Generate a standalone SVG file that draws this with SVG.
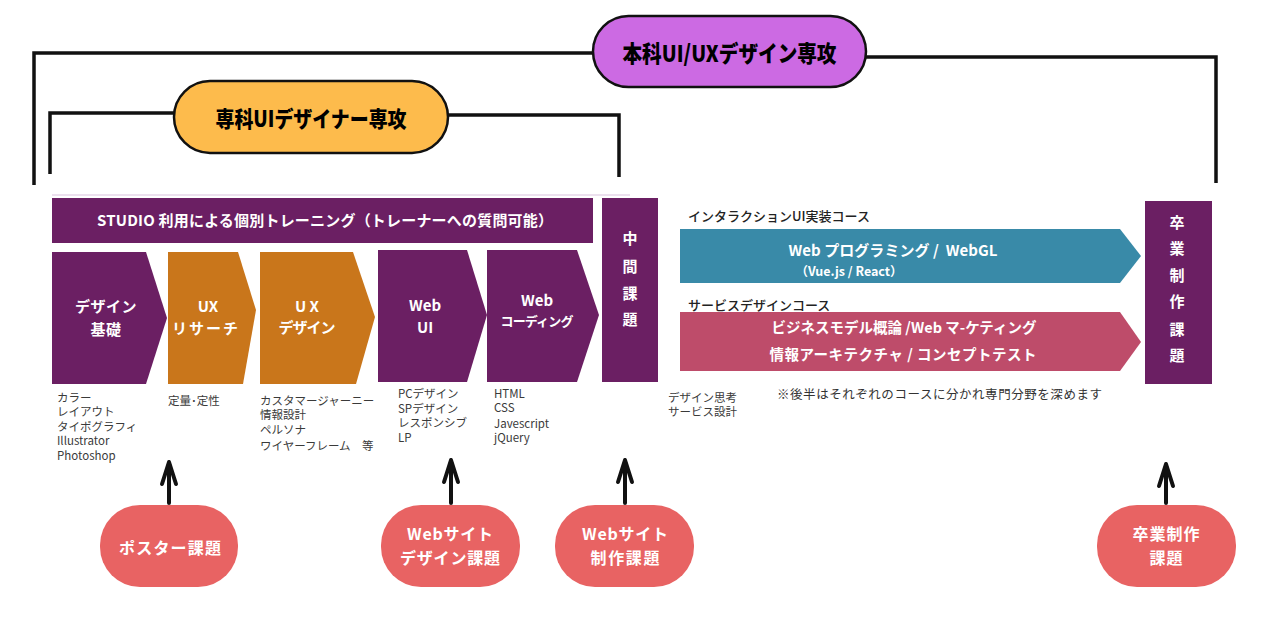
<svg xmlns="http://www.w3.org/2000/svg" width="1267" height="619" viewBox="0 0 1267 619">
<style>
text{font-family:"Noto Sans CJK JP","Noto Sans",sans-serif;dominant-baseline:central}
.w{fill:#ffffff;font-weight:700}
.lbl{fill:#000;font-weight:900}
.lst{fill:#3a3a3a;font-size:11.5px}
.hd{fill:#222;font-size:13px;font-weight:500}
.c{text-anchor:middle}
.pur{fill:#6b1f63}
.org{fill:#c9761b}
.coral{fill:#e86363}
.br{fill:none;stroke:#111;stroke-width:3.5;stroke-linejoin:miter}
.ar{fill:none;stroke:#111;stroke-width:4;stroke-linecap:round;stroke-linejoin:round}
</style>
<rect width="1267" height="619" fill="#ffffff"/>
<g id="connectors">
<polyline class="br" points="34,185 34,53 594,53"/>
<polyline class="br" points="866,57 1216,57 1216,183"/>
<polyline class="br" points="50,174 50,113 175,113"/>
<polyline class="br" points="448,115 619,115 619,177"/>
<line x1="52" y1="195" x2="630" y2="195" stroke="#e6d6e8" stroke-width="1.5"/>
<path class="ar" d="M169,503 L169,464 M162,484 L169,462 L176,484"/>
<path class="ar" d="M451,503 L451,462 M444,482 L451,460 L458,482"/>
<path class="ar" d="M625,503 L625,462 M618,482 L625,460 L632,482"/>
<path class="ar" d="M1166,503 L1166,466 M1159,486 L1166,464 L1173,486"/>
</g>
<g id="honka">
<rect x="593" y="16" width="273" height="71" rx="35.5" fill="#cc6ae3" stroke="#111" stroke-width="2.5"/>
<text class="lbl c" x="729.5" y="52" font-size="23" textLength="214" lengthAdjust="spacingAndGlyphs">本科UI/UXデザイン専攻</text>
</g>
<g id="senka">
<rect x="174" y="81" width="274" height="72" rx="36" fill="#fdbb4c" stroke="#111" stroke-width="2.5"/>
<text class="lbl c" x="311" y="117" font-size="22" textLength="191" lengthAdjust="spacingAndGlyphs">専科UIデザイナー専攻</text>
</g>
<g id="studio">
<rect class="pur" x="52" y="198" width="541" height="45"/>
<text class="w c" x="325" y="219" font-size="15" textLength="456" lengthAdjust="spacing">STUDIO 利用による個別トレーニング（トレーナーへの質問可能）</text>
</g>
<g id="design-kiso">
<polygon class="pur" points="52,252 146,252 167,318 146,384 52,384"/>
<text class="w c" x="106" y="305" font-size="15" letter-spacing="0.5">デザイン</text>
<text class="w c" x="106" y="328" font-size="15" letter-spacing="0.5">基礎</text>
<g class="lst">
<text x="57" y="397">カラー</text>
<text x="57" y="411">レイアウト</text>
<text x="57" y="426">タイポグラフィ</text>
<text x="57" y="440">Illustrator</text>
<text x="57" y="455">Photoshop</text>
</g>
</g>
<g id="ux-research">
<polygon class="org" points="168,252 238,252 256,310 243,384 168,384"/>
<text class="w c" x="208" y="305" font-size="15">UX</text>
<text class="w c" x="205" y="327" font-size="15" textLength="66" lengthAdjust="spacing">リサーチ</text>
<text class="lst" x="168" y="400">定量･定性</text>
</g>
<g id="ux-design">
<polygon class="org" points="260,252 353,252 375,317 356,384 260,384"/>
<text class="w c" x="307" y="305" font-size="15">U X</text>
<text class="w c" x="307" y="326" font-size="15" textLength="57" lengthAdjust="spacing">デザイン</text>
<g class="lst">
<text x="260" y="400">カスタマージャーニー</text>
<text x="260" y="414">情報設計</text>
<text x="260" y="429">ペルソナ</text>
<text x="260" y="445">ワイヤーフレーム　等</text>
</g>
</g>
<g id="web-ui">
<polygon class="pur" points="378,250 467,250 487,315 467,382 378,382"/>
<text class="w c" x="425" y="304" font-size="15">Web</text>
<text class="w c" x="425" y="326" font-size="15">UI</text>
<g class="lst">
<text x="398" y="393">PCデザイン</text>
<text x="398" y="408">SPデザイン</text>
<text x="398" y="422">レスポンシブ</text>
<text x="398" y="437">LP</text>
</g>
</g>
<g id="web-coding">
<polygon class="pur" points="487,250 577,250 599,315 577,382 487,382"/>
<text class="w c" x="537" y="299" font-size="15">Web</text>
<text class="w c" x="537" y="320" font-size="13" textLength="73" lengthAdjust="spacing">コーディング</text>
<g class="lst">
<text x="494" y="393">HTML</text>
<text x="494" y="407">CSS</text>
<text x="494" y="423">Javescript</text>
<text x="494" y="437">jQuery</text>
</g>
</g>
<g id="chukan">
<rect class="pur" x="602" y="198" width="56" height="184"/>
<text class="w c" x="630" y="237" font-size="15">中</text>
<text class="w c" x="630" y="265" font-size="15">間</text>
<text class="w c" x="630" y="292" font-size="15">課</text>
<text class="w c" x="630" y="318" font-size="15">題</text>
<g class="lst">
<text x="668" y="397">デザイン思考</text>
<text x="668" y="411">サービス設計</text>
</g>
</g>
<g id="interaction-course">
<text class="hd" x="688" y="215">インタラクションUI実装コース</text>
<polygon fill="#398aa8" points="680,229 1120,229 1141,256 1120,283 680,283"/>
<text class="w c" x="893" y="249" font-size="15" textLength="209" lengthAdjust="spacing">Web プログラミング /&#160; WebGL</text>
<text class="w c" x="849" y="270" font-size="12.5">（Vue.js / React）</text>
</g>
<g id="service-course">
<text class="hd" x="688" y="304">サービスデザインコース</text>
<polygon fill="#be4c6a" points="680,312 1120,312 1141,342 1120,371 680,371"/>
<text class="w c" x="904" y="326" font-size="14.5" textLength="265" lengthAdjust="spacing">ビジネスモデル概論 /Web マ-ケティング</text>
<text class="w c" x="903" y="353" font-size="14.5" textLength="267" lengthAdjust="spacing">情報アーキテクチャ / コンセプトテスト</text>
<text x="777" y="393" fill="#333" font-size="12.5" textLength="325" lengthAdjust="spacing">※後半はそれぞれのコースに分かれ専門分野を深めます</text>
</g>
<g id="sotsugyo">
<rect class="pur" x="1145" y="201" width="67" height="183"/>
<text class="w c" x="1177" y="221" font-size="15">卒</text>
<text class="w c" x="1177" y="247" font-size="15">業</text>
<text class="w c" x="1177" y="274" font-size="15">制</text>
<text class="w c" x="1177" y="300" font-size="15">作</text>
<text class="w c" x="1177" y="328" font-size="15">課</text>
<text class="w c" x="1177" y="354" font-size="15">題</text>
</g>
<g id="poster-task">
<rect class="coral" x="100" y="505" width="138" height="82" rx="40"/>
<text class="w c" x="170" y="547" font-size="16" textLength="102" lengthAdjust="spacing">ポスター課題</text>
</g>
<g id="web-design-task">
<rect class="coral" x="381" y="505" width="139" height="82" rx="40"/>
<text class="w c" x="450" y="533" font-size="16" textLength="86" lengthAdjust="spacing">Webサイト</text>
<text class="w c" x="450" y="557" font-size="16" textLength="100" lengthAdjust="spacing">デザイン課題</text>
</g>
<g id="web-build-task">
<rect class="coral" x="555" y="505" width="139" height="82" rx="40"/>
<text class="w c" x="625" y="533" font-size="16" textLength="86" lengthAdjust="spacing">Webサイト</text>
<text class="w c" x="625" y="557" font-size="16" textLength="69" lengthAdjust="spacing">制作課題</text>
</g>
<g id="graduation-task">
<rect class="coral" x="1097" y="505" width="139" height="82" rx="40"/>
<text class="w c" x="1166" y="533" font-size="16" textLength="67" lengthAdjust="spacing">卒業制作</text>
<text class="w c" x="1166" y="557" font-size="16" textLength="33" lengthAdjust="spacing">課題</text>
</g>
</svg>
